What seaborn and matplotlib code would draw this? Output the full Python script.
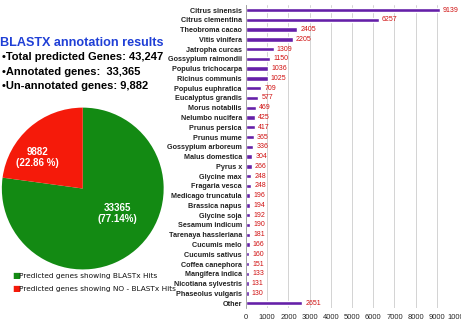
import matplotlib
matplotlib.use("Agg")
import matplotlib.pyplot as plt
import seaborn as sns
import pandas as pd

# data
species = ["Citrus sinensis", "Citrus clementina", "Theobroma cacao", "Vitis vinifera",
           "Jatropha curcas", "Gossypium raimondii", "Populus trichocarpa", "Ricinus communis",
           "Populus euphratica", "Eucalyptus grandis", "Morus notabilis", "Nelumbo nucifera",
           "Prunus persica", "Prunus mume", "Gossypium arboreum", "Malus domestica",
           "Pyrus x", "Glycine max", "Fragaria vesca", "Medicago truncatula",
           "Brassica napus", "Glycine soja", "Sesamum indicum", "Tarenaya hassleriana",
           "Cucumis melo", "Cucumis sativus", "Coffea canephora", "Mangifera indica",
           "Nicotiana sylvestris", "Phaseolus vulgaris", "Other"]
hits = [9139, 6257, 2405, 2205, 1309, 1150, 1036, 1025, 709, 577, 469, 425, 417, 365,
        336, 304, 266, 248, 248, 196, 194, 192, 190, 181, 166, 160, 151, 133, 131, 130, 2651]

pie_labels = ["Predicted genes showing BLASTx Hits", "Predicted genes showing NO - BLASTx Hits"]
pie_values = [33365, 9882]
pie_pct = ["77.14%", "22.86 %"]

summary = ["\u2022Total predicted Genes: 43,247",
           "\u2022Annotated genes:  33,365",
           "\u2022Un-annotated genes: 9,882"]

sns.set_style("whitegrid")
plt.rcParams['font.family'] = ['Liberation Sans Narrow', 'Liberation Sans', 'DejaVu Sans']

fig = plt.figure(figsize=(4.61, 3.22), dpi=100)

# ---- bar chart ----
df = pd.DataFrame({"species": species, "hits": hits})
ax = fig.add_axes([0.5336, 0.0435, 0.46, 0.9405])
sns.barplot(data=df, x="hits", y="species", color="#6520a8", width=0.45, ax=ax,
            saturation=1, orient="h")
ax.set_xlim(0, 10000)
ax.set_xticks(range(0, 10001, 1000))
ax.set_xlabel("")
ax.set_ylabel("")
ax.tick_params(axis="x", labelsize=5.5, pad=4, length=0)
ax.tick_params(axis="y", labelsize=5.2, pad=3, length=0)
for lab in ax.get_yticklabels():
    lab.set_fontweight("bold")
    lab.set_color("#222222")
ax.grid(axis="x", color="#cccccc", linewidth=0.6)
ax.grid(axis="y", visible=False)
for s in ["top", "right", "bottom"]:
    ax.spines[s].set_visible(False)
ax.spines["left"].set_color("#999999")
ax.spines["left"].set_linewidth(0.6)
for i, v in enumerate(hits):
    ax.text(v + 150, i, str(v), color="#d01010", fontsize=5, va="center", ha="left")

# ---- left text ----
fig.text(0.0, 0.865, "BLASTX annotation results", color="#1f3fd6", fontsize=9.1,
         fontweight="bold", family=["Liberation Sans", "DejaVu Sans"], va="center")
for k, line in enumerate(summary):
    fig.text(0.005, 0.822 - k * 0.045, line, color="black", fontsize=8.0,
             fontweight="bold", family=["Liberation Sans", "DejaVu Sans"], va="center")

# ---- pie ----
pax = fig.add_axes([0.004, 0.163, 0.351, 0.503])
pax.pie(pie_values, colors=["#138a13", "#f51a0a"], startangle=90, counterclock=False,
        wedgeprops={"linewidth": 0})
pax.set_xlim(-1, 1)
pax.set_ylim(-1, 1)
pax.text(0.43, -0.31, f"{pie_values[0]}\n({pie_pct[0]})", color="white", fontsize=7,
         fontweight="bold", ha="center", va="center", family=["Liberation Sans", "DejaVu Sans"],
         linespacing=1.1)
pax.text(-0.56, 0.38, f"{pie_values[1]}\n({pie_pct[1]})", color="white", fontsize=7,
         fontweight="bold", ha="center", va="center", family=["Liberation Sans", "DejaVu Sans"],
         linespacing=1.1)

# legend
for k, (lab, col) in enumerate(zip(pie_labels, ["#138a13", "#f51a0a"])):
    y = 0.143 - k * 0.04
    fig.text(0.026, y, "\u25a0", color=col, fontsize=6, va="center", ha="left",
             family=["DejaVu Sans"])
    fig.text(0.042, y, lab, color="#111111", fontsize=5.3, va="center", ha="left",
             family=["DejaVu Sans"])

fig.savefig("out.png", dpi=100)
